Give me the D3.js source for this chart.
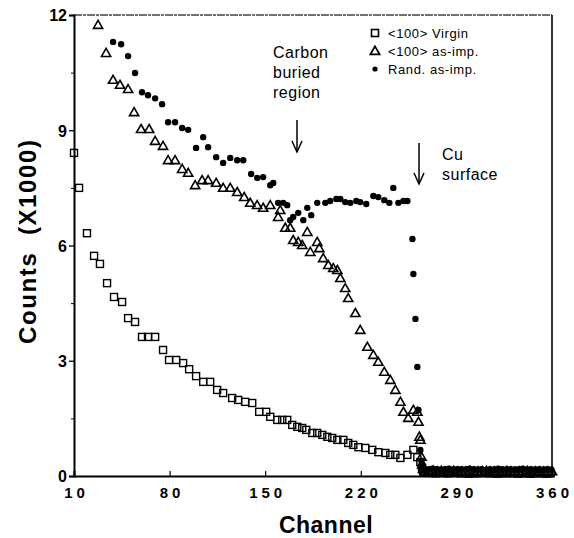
<!DOCTYPE html>
<html><head><meta charset="utf-8">
<script src="https://cdn.jsdelivr.net/npm/d3@7/dist/d3.min.js"></script>
<style>body{margin:0;background:#fff}svg{display:block}</style>
</head><body>
<svg id="c" width="574" height="538"></svg>
<script>
// ---- data ----
const xTicks = [10, 80, 150, 220, 290, 360];
const yTicks = [0, 3, 6, 9, 12];
const yMinor = [1.5, 4.5, 7.5, 10.5];

const virginCh = [10,13.7,19.5,24.7,29,34.2,39.3,45.2,49.6,54.7,59.8,64.2,69.4,75.2,79.6,84.8,89.9,94.3,99.4,104.6,109.7,114.8,119.2,125.8,130.2,135.3,140.5,145.6,150.7,153.7,158.8,162.5,166.1,169.8,173.5,177.1,180.1,184.5,188.1,191.8,195.5,199.1,202.8,207.2,210.8,214.5,218.2,223.3,228.4,232.8,238,241.6,245.3,249,254.1,258.5,261.4,263.6,264.8,265.6,
 266,269,272,275,278,281,284,287,290,293,296,299,302,305,308,311,314,317,320,323,326,329,332,335,338,341,344,347,350,353,356,359];
const virginVal = [8.41,7.5,6.32,5.73,5.52,5.02,4.66,4.53,4.11,4.01,3.62,3.62,3.62,3.28,3.02,3.02,2.94,2.78,2.6,2.45,2.45,2.24,2.16,2.03,1.98,1.93,1.9,1.67,1.67,1.54,1.46,1.46,1.46,1.33,1.28,1.25,1.2,1.12,1.12,1.07,1.02,0.99,0.94,0.94,0.86,0.81,0.75,0.73,0.68,0.62,0.6,0.55,0.55,0.47,0.55,0.68,0.49,0.36,0.22,0.14,
 0.1,0.08,0.09,0.07,0.08,0.08,0.07,0.09,0.08,0.07,0.08,0.06,0.08,0.07,0.09,0.08,0.07,0.08,0.06,0.07,0.08,0.07,0.09,0.06,0.07,0.08,0.06,0.07,0.08,0.07,0.06,0.07];

const impCh = [27.6,33.5,38.6,43.7,49.6,54,59.1,65,69.4,75.2,78.9,84,89.2,93.6,98.7,103.8,108.2,114.1,119.2,124.4,129.5,134.6,139,144.1,148.5,153.7,159.5,161,164.7,168.3,170.5,174.2,177.1,180.8,183,188.1,189.6,192.5,196.2,199.8,202.8,205,208.6,210.8,216,219.6,224.8,229.2,232.8,237.2,241.6,245.3,249,251.2,254.8,258.5,261.4,262.2,262.9,263.6,264.4,265,265.6,
 267,270,273,276,279,282,285,288,291,294,297,300,303,306,309,312,315,318,321,324,327,330,333,336,339,342,345,348,351,354,357,360];
const impVal = [11.74,11.01,10.31,10.18,10.07,9.47,9.03,9.03,8.72,8.59,8.22,8.22,7.99,7.89,7.57,7.7,7.7,7.63,7.5,7.5,7.39,7.26,7.11,7.05,6.98,7.05,6.74,6.92,6.46,6.46,6.14,6.09,6.01,6.35,5.83,6.09,5.93,5.67,5.49,5.41,5.36,5.15,4.89,4.63,4.24,3.8,3.36,3.15,2.97,2.71,2.5,2.24,1.93,1.67,1.51,1.72,1.67,1.41,1.02,0.94,0.5,0.3,0.18,
 0.13,0.12,0.14,0.12,0.13,0.11,0.12,0.13,0.12,0.11,0.12,0.13,0.11,0.12,0.12,0.13,0.11,0.12,0.12,0.11,0.13,0.12,0.11,0.12,0.12,0.13,0.11,0.12,0.12,0.11,0.12,0.12];

const randCh = [38.6,44.5,49.6,54.7,59.8,64.2,69.4,74.5,78.9,84,89.2,93.6,99.4,104.6,108.2,114.1,119.2,124.4,129.5,133.9,139.7,144.1,148.5,153.7,155.9,159.5,163.2,166.1,168.3,170.5,174.2,177.9,180.8,183.7,188.1,194,197.6,202.1,205,208.6,212.3,216.7,219.6,224,229.2,232.8,237.2,240.9,243.8,247.5,251.2,254.1,257.8,258.5,260,261.4,262.2,263.6,264.4,265.2,
 266.5,269.5,272.5,275.5,278.5,281.5,284.5,287.5,290.5,293.5,296.5,299.5,302.5,305.5,308.5,311.5,314.5,317.5,320.5,323.5,326.5,329.5,332.5,335.5,338.5,341.5,344.5,347.5,350.5,353.5,356.5,359.5];
const randVal = [11.3,11.24,10.93,10.49,9.99,9.91,9.83,9.68,9.21,9.21,9.06,9.01,8.54,8.82,8.56,8.3,8.15,8.28,8.22,8.22,7.86,7.76,7.78,7.57,7.63,7.11,7.11,7.05,6.66,6.74,6.85,6.66,6.98,6.79,7.11,7.11,7.16,7.21,7.21,7.13,7.11,7.16,7.13,7.08,7.29,7.26,7.18,7.11,7.5,7.11,7.16,7.16,6.17,5.26,4.09,2.84,1.72,0.68,0.4,0.25,
 0.18,0.17,0.19,0.18,0.17,0.18,0.19,0.17,0.18,0.18,0.17,0.19,0.18,0.17,0.18,0.16,0.18,0.17,0.19,0.18,0.17,0.18,0.17,0.18,0.19,0.17,0.18,0.17,0.18,0.17,0.18,0.17];

const legendItems = ["<100> Virgin", "<100> as-imp.", "Rand. as-imp."];

// ---- chart ----
const svg = d3.select("#c");
const x = d3.scaleLinear().domain([10, 360]).range([74, 552]);
const y = d3.scaleLinear().domain([0, 12]).range([476, 15]);
const font = "Liberation Sans, Arial, Helvetica, sans-serif";

// frame
svg.append("line").attr("x1", x(10)).attr("x2", x(360)).attr("y1", y(12)).attr("y2", y(12))
  .attr("stroke", "#444").attr("stroke-width", 1.3).attr("stroke-dasharray", "8,1,3,1");
svg.append("line").attr("x1", x(360)).attr("x2", x(360)).attr("y1", y(12)).attr("y2", y(0))
  .attr("stroke", "#000").attr("stroke-width", 1.6);

// axes
const yAxis = d3.axisLeft(y).tickValues(yTicks).tickSize(5).tickFormat(d3.format("d"));
const gy = svg.append("g").attr("transform", `translate(${x(10)},0)`).call(yAxis);
gy.select(".domain").attr("stroke-width", 2);
gy.selectAll(".tick line").attr("stroke-width", 1.3);
gy.selectAll(".tick text").attr("font-family", font).attr("font-weight", "bold")
  .attr("font-size", 16).attr("x", -7).attr("dy", "0.36em");
const gyMinor = svg.append("g").attr("transform", `translate(${x(10)},0)`)
  .call(d3.axisLeft(y).tickValues(yMinor).tickSize(3).tickFormat(""));
gyMinor.select(".domain").remove();

const xAxis = d3.axisBottom(x).tickValues(xTicks).tickSize(-5).tickFormat(d3.format("d"));
const gx = svg.append("g").attr("transform", `translate(0,${y(0)})`).call(xAxis);
gx.select(".domain").attr("stroke-width", 2);
gx.selectAll(".tick line").attr("stroke-width", 1.2);
gx.selectAll(".tick text").attr("font-family", font).attr("font-weight", "bold")
  .attr("font-size", 15).attr("letter-spacing", "4px").attr("y", 11).attr("dx", "2px");

// axis titles
svg.append("text").attr("transform", "translate(36,242) rotate(-90)")
  .attr("text-anchor", "middle").attr("font-family", font).attr("font-weight", "bold")
  .attr("font-size", 24).attr("textLength", 204).attr("lengthAdjust", "spacing")
  .style("white-space", "pre")
  .text("Counts  (X1000)");
svg.append("text").attr("x", 326).attr("y", 533).attr("text-anchor", "middle")
  .attr("font-family", font).attr("font-weight", "bold").attr("font-size", 23)
  .attr("letter-spacing", "0.5px").text("Channel");

// markers
const sq = 7;
const triPath = "M0,-4.6L4.6,3.4L-4.6,3.4Z";
const zip = (a, b) => a.map((v, i) => [v, b[i]]);

svg.append("g").selectAll("rect").data(zip(virginCh, virginVal)).join("rect")
  .attr("x", d => x(d[0]) - sq / 2).attr("y", d => y(d[1]) - sq / 2)
  .attr("width", sq).attr("height", sq)
  .attr("fill", "none").attr("stroke", "#000").attr("stroke-width", 1.4);

svg.append("g").selectAll("path").data(zip(impCh, impVal)).join("path")
  .attr("d", triPath).attr("transform", d => `translate(${x(d[0])},${y(d[1])})`)
  .attr("fill", "none").attr("stroke", "#000").attr("stroke-width", 1.6)
  .attr("stroke-linejoin", "miter");

svg.append("g").selectAll("circle").data(zip(randCh, randVal)).join("circle")
  .attr("cx", d => x(d[0])).attr("cy", d => y(d[1])).attr("r", 3.2).attr("fill", "#000");

// legend
const lg = svg.append("g");
const lx = 375, ly = [33, 51, 69];
lg.append("rect").attr("x", lx - 3.5).attr("y", ly[0] - 3.5).attr("width", 7).attr("height", 7)
  .attr("fill", "none").attr("stroke", "#000").attr("stroke-width", 1.6);
lg.append("path").attr("d", triPath).attr("transform", `translate(${lx},${ly[1]})`)
  .attr("fill", "none").attr("stroke", "#000").attr("stroke-width", 1.8);
lg.append("circle").attr("cx", lx).attr("cy", ly[2]).attr("r", 2.6).attr("fill", "#000");
legendItems.forEach((t, i) => {
  lg.append("text").attr("x", 388).attr("y", ly[i] + 4.5).attr("font-family", font)
    .attr("font-size", 13).attr("letter-spacing", "0.6px").text(t);
});

// annotations
function note(lines, x0, y0) {
  const t = svg.append("text").attr("font-family", font).attr("font-size", 16).attr("letter-spacing", "0.5px");
  lines.forEach((l, i) => t.append("tspan").attr("x", x0).attr("y", y0 + i * 20).text(l));
}
note(["Carbon", "buried", "region"], 273, 58);
note(["Cu", "surface"], 442, 160);

function arrow(ax, y1, y2) {
  svg.append("line").attr("x1", ax).attr("x2", ax).attr("y1", y1).attr("y2", y2)
    .attr("stroke", "#000").attr("stroke-width", 1.5);
  svg.append("path").attr("d", `M${ax - 5},${y2 - 11}L${ax},${y2}L${ax + 5},${y2 - 11}`)
    .attr("fill", "none").attr("stroke", "#000").attr("stroke-width", 1.5);
}
arrow(297, 120, 152);
arrow(419, 143, 184);
</script>
</body></html>
